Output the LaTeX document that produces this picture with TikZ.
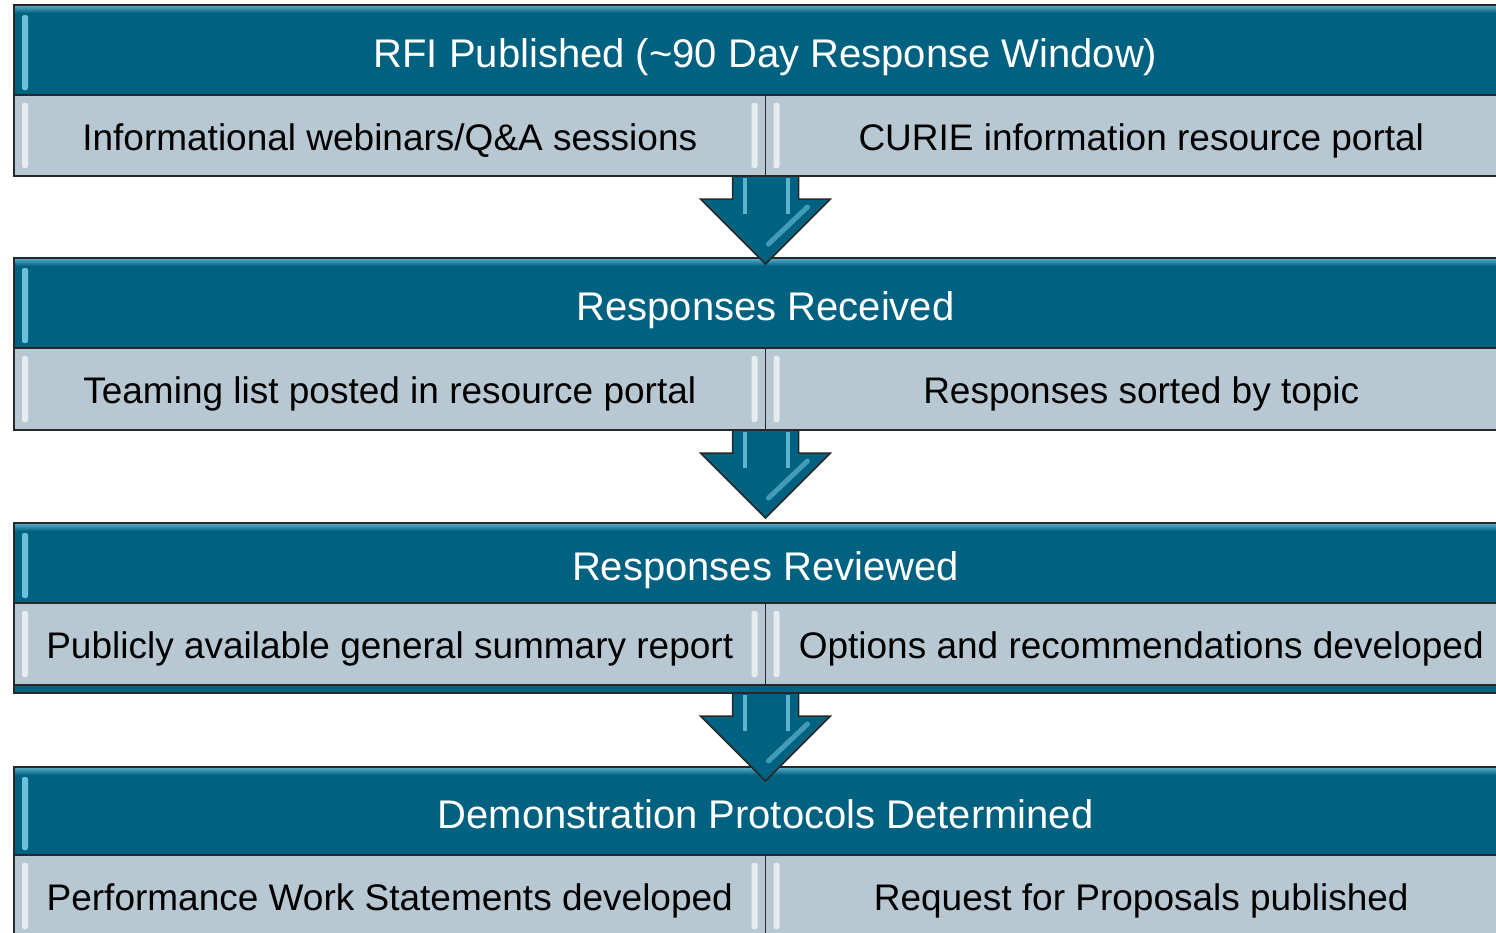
\documentclass[tikz,border=0pt]{standalone}
\usepackage{fontspec}
\setmainfont{Liberation Sans}
\usetikzlibrary{positioning,calc}
\definecolor{headteal}{RGB}{0,97,128}
\definecolor{cellgray}{RGB}{184,200,210}
\definecolor{edgegray}{RGB}{40,40,40}
\definecolor{glowcyan}{RGB}{135,215,238}
\begin{document}
\begin{tikzpicture}[x=1pt, y=-1pt,
	header/.style = {draw=edgegray, line width=1.5pt, fill=headteal, text=white, font=\fontsize{40}{48}\selectfont, text height=34pt, text depth=0pt, minimum width=1503pt, inner sep=0pt, outer sep=0pt},
	cell/.style = {draw=edgegray, line width=1.5pt, fill=cellgray, font=\fontsize{37}{44}\selectfont, text height=29pt, text depth=0pt, minimum width=751.5pt, inner sep=0pt, outer sep=0pt},
	downarrow/.style = {draw=edgegray, line width=1.5pt, fill=headteal, line join=miter}]
	\useasboundingbox (0,0) rectangle (1496,932);
	% first block
	\node[header, minimum height=90pt, anchor=north west] (rfi) at (14,5) {RFI Published (\textasciitilde 90 Day Response Window)};
	\node[cell, minimum height=81pt] (webinars) [below right=0pt and 0pt of rfi.south west] {Informational webinars/Q\&A sessions};
	\node[cell, minimum height=81pt] (portal) [right=0pt of webinars] {CURIE information resource portal};
	% second block
	\node[header, minimum height=90pt, anchor=north west] (received) at (14,258) {Responses Received};
	\node[cell, minimum height=82pt] (teaming) [below right=0pt and 0pt of received.south west] {Teaming list posted in resource portal};
	\node[cell, minimum height=82pt] (sorted) [right=0pt of teaming] {Responses sorted by topic};
	% third block
	\node[header, minimum height=80pt, anchor=north west] (reviewed) at (14,523) {Responses Reviewed};
	\node[cell, minimum height=82pt] (summary) [below right=0pt and 0pt of reviewed.south west] {Publicly available general summary report};
	\node[cell, minimum height=82pt] (options) [right=0pt of summary] {Options and recommendations developed};
	\node[header, minimum height=8pt, text height=0pt] (band) [below right=0pt and 0pt of summary.south west] {};
	% fourth block
	\node[header, minimum height=88pt, anchor=north west] (protocols) at (14,767) {Demonstration Protocols Determined};
	\node[cell, minimum height=82pt] (pws) [below right=0pt and 0pt of protocols.south west] {Performance Work Statements developed};
	\node[cell, minimum height=82pt] (rfp) [right=0pt of pws] {Request for Proposals published};
	% glossy edges
	\foreach \n in {rfi, received, reviewed, protocols} {
		\shade[top color=glowcyan!60!headteal, bottom color=headteal] ($(\n.north west)+(1,1)$) rectangle ($(\n.north east)+(-1,8)$);
		\fill[glowcyan!80!headteal, rounded corners=2pt] ($(\n.north west)+(8,10)$) rectangle ($(\n.south west)+(14,-5)$);
	}
	\foreach \n in {webinars, portal, teaming, sorted, summary, options, pws, rfp} {
		\fill[white!65!cellgray, rounded corners=2pt] ($(\n.north west)+(8,8)$) rectangle ($(\n.south west)+(14,-8)$);
		\fill[white!65!cellgray, rounded corners=2pt] ($(\n.north east)+(-14,8)$) rectangle ($(\n.south east)+(-8,-8)$);
	}
	% arrows between blocks
	\foreach \a/\t in {webinars/webinars, teaming/teaming, summary/band} {
		\coordinate (s) at (\a.south east |- \t.south);
		\draw[downarrow] ($(s)+(-33,0)$) -- ++(0,23) -- ++(-32,0) -- ($(s)+(0,88)$) -- ++(65,-65) -- ++(-32,0) -- ++(0,-23) -- cycle;
		\draw[glowcyan, line width=4pt, opacity=.7] ($(s)+(-21,2)$) -- ++(0,36);
		\draw[glowcyan, line width=4pt, opacity=.7] ($(s)+(22,2)$) -- ++(0,36);
		\draw[glowcyan, line width=5pt, opacity=.5, line cap=round] ($(s)+(42,31)$) -- ($(s)+(3,68)$);
	}
\end{tikzpicture}
\end{document}
